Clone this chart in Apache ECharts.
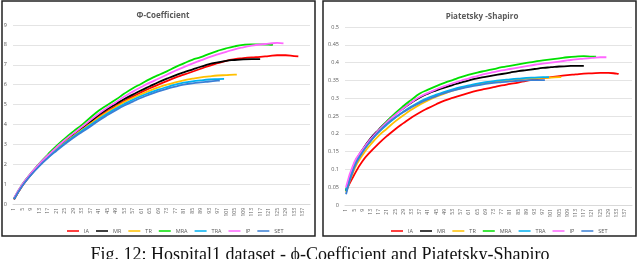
<!DOCTYPE html>
<html><head><meta charset="utf-8">
<script src="https://cdn.jsdelivr.net/npm/echarts@6/dist/echarts.min.js"></script>
<style>html,body{margin:0;padding:0;background:#fff;overflow:hidden}#c{width:640px;height:259px}</style>
</head><body><div id="c"></div>
<script>
// ---- data ----
const categories = Array.from({length: 140}, (_, i) => String(i + 1));
const seriesNames = ['IA', 'MR', 'TR', 'MRA', 'TRA', 'IP', 'SET'];
const phiTitle = 'Φ-Coefficient';
const psTitle = 'Piatetsky -Shapiro';
const caption = 'Fig. 12: Hospital1 dataset - ϕ-Coefficient and Piatetsky-Shapiro';

// Φ-Coefficient: [category, value]
const phiIA = [[1,0.22],[5,0.93],[9,1.48],[13,1.97],[17,2.38],[21,2.77],[25,3.12],[29,3.45],[33,3.77],[37,4.08],[41,4.4],[45,4.68],[49,4.93],[53,5.18],[57,5.4],[61,5.62],[65,5.82],[69,6.0],[73,6.18],[77,6.35],[81,6.5],[85,6.65],[89,6.8],[93,6.95],[97,7.08],[101,7.2],[105,7.28],[109,7.33],[113,7.37],[117,7.4],[121,7.44],[125,7.48],[129,7.48],[133,7.44],[135,7.42]];
const phiMR = [[1,0.25],[5,0.97],[9,1.52],[13,2.0],[17,2.42],[21,2.82],[25,3.18],[29,3.5],[33,3.82],[37,4.15],[41,4.48],[45,4.78],[49,5.03],[53,5.28],[57,5.5],[61,5.72],[65,5.92],[69,6.12],[73,6.3],[77,6.47],[81,6.62],[85,6.76],[89,6.9],[93,7.03],[97,7.12],[101,7.2],[105,7.24],[109,7.27],[113,7.28],[117,7.28]];
const phiTR = [[1,0.25],[5,0.95],[9,1.5],[13,1.98],[17,2.38],[21,2.75],[25,3.1],[29,3.42],[33,3.73],[37,4.03],[41,4.35],[45,4.62],[49,4.88],[53,5.12],[57,5.33],[61,5.52],[65,5.7],[69,5.86],[73,6.0],[77,6.12],[81,6.22],[85,6.3],[89,6.37],[93,6.42],[97,6.46],[101,6.48],[105,6.5],[106,6.5]];
const phiMRA = [[1,0.28],[5,1.0],[9,1.55],[13,2.05],[17,2.5],[21,2.92],[25,3.3],[29,3.65],[33,3.98],[37,4.35],[41,4.7],[45,4.98],[49,5.25],[53,5.55],[57,5.82],[61,6.05],[65,6.28],[69,6.48],[73,6.67],[77,6.88],[81,7.07],[85,7.25],[89,7.38],[93,7.55],[97,7.7],[101,7.83],[105,7.93],[109,8.0],[113,8.03],[117,8.03],[121,8.02],[123,8.0]];
const phiTRA = [[1,0.25],[5,0.95],[9,1.48],[13,1.95],[17,2.35],[21,2.72],[25,3.06],[29,3.38],[33,3.68],[37,3.97],[41,4.28],[45,4.55],[49,4.8],[53,5.03],[57,5.24],[61,5.43],[65,5.6],[69,5.75],[73,5.88],[77,6.0],[81,6.1],[85,6.17],[89,6.22],[93,6.26],[97,6.28],[100,6.29]];
const phiIP = [[1,0.3],[5,1.0],[9,1.55],[13,2.03],[17,2.45],[21,2.85],[25,3.22],[29,3.55],[33,3.88],[37,4.22],[41,4.55],[45,4.85],[49,5.12],[53,5.4],[57,5.65],[61,5.88],[65,6.1],[69,6.3],[73,6.5],[77,6.7],[81,6.88],[85,7.06],[89,7.22],[93,7.38],[97,7.52],[101,7.65],[105,7.78],[109,7.88],[113,7.96],[117,8.02],[121,8.06],[125,8.1],[128,8.08]];
const phiSET = [[1,0.24],[5,0.93],[9,1.46],[13,1.92],[17,2.32],[21,2.68],[25,3.02],[29,3.33],[33,3.62],[37,3.9],[41,4.2],[45,4.47],[49,4.72],[53,4.95],[57,5.15],[61,5.34],[65,5.51],[69,5.66],[73,5.79],[77,5.9],[81,6.0],[85,6.07],[89,6.12],[93,6.16],[97,6.2],[98,6.2]];

// Piatetsky-Shapiro: [category, value]
const psIA = [[1,0.04],[5,0.085],[9,0.123],[13,0.15],[17,0.173],[21,0.194],[25,0.213],[29,0.23],[33,0.246],[37,0.26],[41,0.272],[45,0.283],[49,0.293],[53,0.301],[57,0.308],[61,0.315],[65,0.321],[69,0.326],[73,0.331],[77,0.336],[81,0.34],[85,0.344],[89,0.349],[93,0.352],[97,0.356],[101,0.359],[105,0.362],[109,0.365],[113,0.367],[117,0.369],[121,0.37],[125,0.371],[129,0.371],[133,0.369],[134,0.368]];
const psMR = [[1,0.04],[5,0.115],[9,0.155],[13,0.187],[17,0.212],[21,0.235],[25,0.255],[29,0.272],[33,0.288],[37,0.302],[41,0.313],[45,0.322],[49,0.33],[53,0.337],[57,0.344],[61,0.35],[65,0.356],[69,0.36],[73,0.364],[77,0.368],[81,0.372],[85,0.376],[89,0.379],[93,0.382],[97,0.385],[101,0.387],[105,0.389],[109,0.39],[113,0.391],[117,0.391]];
const psTR = [[1,0.035],[5,0.1],[9,0.14],[13,0.17],[17,0.195],[21,0.215],[25,0.235],[29,0.252],[33,0.268],[37,0.282],[41,0.294],[45,0.304],[49,0.313],[53,0.321],[57,0.328],[61,0.334],[65,0.339],[69,0.343],[73,0.346],[77,0.349],[81,0.351],[85,0.353],[89,0.355],[93,0.356],[97,0.357],[101,0.358],[105,0.359],[106,0.359]];
const psMRA = [[1,0.04],[5,0.115],[9,0.15],[13,0.18],[17,0.21],[21,0.235],[25,0.258],[29,0.278],[33,0.296],[37,0.313],[41,0.324],[45,0.334],[49,0.343],[53,0.351],[57,0.359],[61,0.366],[65,0.372],[69,0.377],[73,0.382],[77,0.387],[81,0.391],[85,0.395],[89,0.399],[93,0.403],[97,0.406],[101,0.409],[105,0.412],[109,0.415],[113,0.417],[117,0.418],[121,0.417],[123,0.417]];
const psTRA = [[1,0.04],[5,0.11],[9,0.15],[13,0.18],[17,0.205],[21,0.226],[25,0.245],[29,0.262],[33,0.277],[37,0.29],[41,0.301],[45,0.31],[49,0.318],[53,0.325],[57,0.331],[61,0.336],[65,0.341],[69,0.345],[73,0.348],[77,0.351],[81,0.353],[85,0.355],[89,0.357],[93,0.358],[97,0.359],[100,0.359]];
const psIP = [[1,0.05],[5,0.12],[9,0.155],[13,0.185],[17,0.21],[21,0.233],[25,0.253],[29,0.272],[33,0.289],[37,0.304],[41,0.315],[45,0.325],[49,0.334],[53,0.342],[57,0.349],[61,0.356],[65,0.362],[69,0.368],[73,0.373],[77,0.378],[81,0.382],[85,0.386],[89,0.39],[93,0.394],[97,0.397],[101,0.4],[105,0.403],[109,0.406],[113,0.409],[117,0.411],[121,0.413],[125,0.415],[128,0.415]];
const psSET = [[1,0.03],[5,0.105],[9,0.148],[13,0.18],[17,0.206],[21,0.228],[25,0.246],[29,0.261],[33,0.275],[37,0.287],[41,0.297],[45,0.306],[49,0.314],[53,0.321],[57,0.327],[61,0.332],[65,0.336],[69,0.34],[73,0.343],[77,0.345],[81,0.347],[85,0.349],[89,0.35],[93,0.351],[97,0.351],[98,0.351]];

const phiData = [phiIA, phiMR, phiTR, phiMRA, phiTRA, phiIP, phiSET];
const psData = [psIA, psMR, psTR, psMRA, psTRA, psIP, psSET];
const colors = ['#FF0000', '#000000', '#FFC000', '#00E000', '#00B0F0', '#FF66FF', '#3A7FD5'];

// ---- chart ----
const FONT = '"Open Sans", "Liberation Sans", sans-serif';
const chart = echarts.init(document.getElementById('c'), null, {renderer: 'canvas'});
const toIdx = arr => arr.map(p => [p[0] - 1, p[1]]);

function axes(gi, max, interval) {
  return {
    x: {
      type: 'category', gridIndex: gi, data: categories, boundaryGap: true,
      axisLine: {lineStyle: {color: '#d9d9d9'}}, axisTick: {show: false},
      axisLabel: {interval: 3, rotate: 90, fontSize: 5, color: '#595959', fontFamily: FONT, margin: 4}
    },
    y: {
      type: 'value', gridIndex: gi, min: 0, max: max, interval: interval,
      axisLine: {show: false}, axisTick: {show: false},
      splitLine: {lineStyle: {color: '#e4e4e4', width: 1}},
      axisLabel: {fontSize: 5.5, color: '#595959', fontFamily: FONT, margin: 6}
    }
  };
}
const a0 = axes(0, 9, 1), a1 = axes(1, 0.5, 0.05);

const series = [];
phiData.forEach((d, i) => series.push({
  name: seriesNames[i], type: 'line', xAxisIndex: 0, yAxisIndex: 0, data: toIdx(d),
  smooth: true, showSymbol: false, lineStyle: {width: 1.8, color: colors[i]}, itemStyle: {color: colors[i]}
}));
psData.forEach((d, i) => series.push({
  name: seriesNames[i], type: 'line', xAxisIndex: 1, yAxisIndex: 1, data: toIdx(d),
  smooth: true, showSymbol: false, lineStyle: {width: 1.8, color: colors[i]}, itemStyle: {color: colors[i]}
}));

const legendBase = {
  data: seriesNames, icon: 'rect', itemWidth: 12, itemHeight: 1.5, itemGap: 7,
  textStyle: {fontSize: 5.5, color: '#595959', fontFamily: FONT}, top: 223
};

chart.setOption({
  animation: false,
  title: [
    {text: phiTitle, left: 158, top: 7, textAlign: 'center', textStyle: {fontSize: 8, fontWeight: 'bold', color: '#595959', fontFamily: FONT}},
    {text: psTitle, left: 477, top: 8, textAlign: 'center', textStyle: {fontSize: 8, fontWeight: 'bold', color: '#595959', fontFamily: FONT}}
  ],
  legend: [
    Object.assign({}, legendBase, {left: 62}),
    Object.assign({}, legendBase, {left: 386})
  ],
  grid: [
    {left: 13, right: 330, top: 25, bottom: 55},
    {left: 345, right: 8, top: 27, bottom: 54}
  ],
  xAxis: [a0.x, a1.x],
  yAxis: [a0.y, a1.y],
  series: series,
  graphic: [
    {type: 'rect', shape: {x: 2, y: 1, width: 313, height: 235}, style: {fill: 'none', stroke: '#222', lineWidth: 1.5}, silent: true},
    {type: 'rect', shape: {x: 323, y: 1, width: 313, height: 235}, style: {fill: 'none', stroke: '#222', lineWidth: 1.5}, silent: true},
    {type: 'text', left: 'center', top: 246, style: {text: caption, font: '18px "Liberation Serif", "DejaVu Serif", serif', fill: '#111'}, silent: true}
  ]
});
</script></body></html>
